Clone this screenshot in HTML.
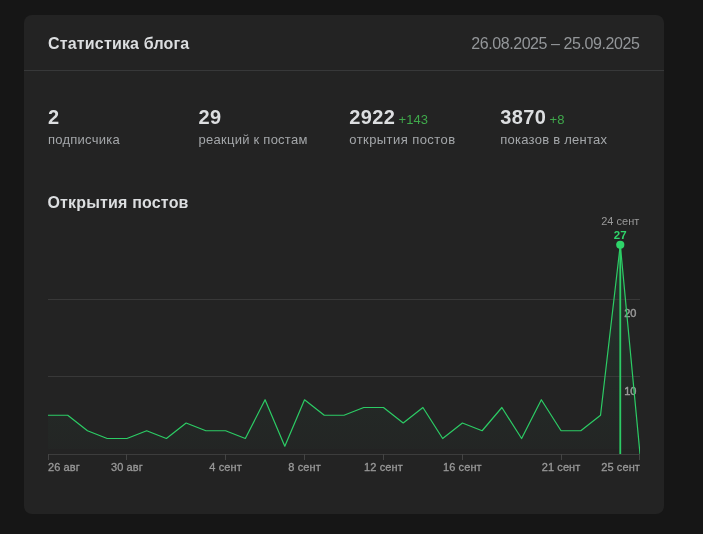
<!DOCTYPE html>
<html lang="ru"><head><meta charset="utf-8"><title>Статистика блога</title>
<style>
html,body{margin:0;padding:0;}
body{width:703px;height:534px;background:#161616;font-family:"Liberation Sans",sans-serif;position:relative;overflow:hidden;}
.card{position:absolute;left:24px;top:15px;width:640px;height:499px;background:#232323;border-radius:8px;}
.hdr{position:absolute;left:0;top:0;width:640px;height:55px;border-bottom:1px solid #373839;}
.title{position:absolute;left:24px;top:19px;font-size:16px;font-weight:bold;color:#dcdee0;line-height:20px;white-space:nowrap;letter-spacing:0.17px;}
.date{position:absolute;right:24.5px;top:19px;font-size:16px;color:#939699;line-height:20px;white-space:nowrap;letter-spacing:-0.42px;}
.stat{position:absolute;top:0;white-space:nowrap;}
.num{position:absolute;left:0;top:90px;font-size:20px;font-weight:bold;color:#dcdee0;line-height:24px;letter-spacing:0.4px;}
.delta{font-size:13px;font-weight:normal;color:#3fa84b;margin-left:3.2px;letter-spacing:0;}
.lbl{position:absolute;left:0;top:116.5px;font-size:13px;color:#a4a7aa;line-height:16px;letter-spacing:0.25px;}
.h2{position:absolute;left:23.5px;top:178px;font-size:16px;font-weight:bold;color:#dcdee0;line-height:20px;white-space:nowrap;letter-spacing:0.17px;}
svg{position:absolute;left:0;top:0;}
.tk{font-family:"Liberation Sans",sans-serif;font-size:11px;fill:#999;stroke:#999;stroke-width:0.3px;letter-spacing:0.1px;}
.yl{font-family:"Liberation Sans",sans-serif;font-size:11px;fill:#999;stroke:#999;stroke-width:0.45px;}
</style></head><body>
<div class="card">
 <div class="hdr"><div class="title">Статистика блога</div><div class="date">26.08.2025 – 25.09.2025</div></div>
 <div class="stat" style="left:24px"><div class="num">2</div><div class="lbl">подписчика</div></div>
 <div class="stat" style="left:174.6px"><div class="num">29</div><div class="lbl">реакций к постам</div></div>
 <div class="stat" style="left:325.3px"><div class="num">2922<span class="delta">+143</span></div><div class="lbl" style="letter-spacing:0.43px">открытия постов</div></div>
 <div class="stat" style="left:476.3px"><div class="num">3870<span class="delta">+8</span></div><div class="lbl">показов в лентах</div></div>
 <div class="h2">Открытия постов</div>
</div>
<svg width="703" height="534" viewBox="0 0 703 534">
<defs><linearGradient id="g" x1="0" y1="245" x2="0" y2="449" gradientUnits="userSpaceOnUse"><stop offset="0" stop-color="#36cc80" stop-opacity="0.10"/><stop offset="1" stop-color="#36cc80" stop-opacity="0.015"/></linearGradient>
<clipPath id="c2"><rect x="40" y="230" width="600" height="219"/></clipPath>
<clipPath id="c"><rect x="40" y="230" width="600" height="230"/></clipPath></defs>
<g clip-path="url(#c2)"><polygon points="48,454 48.00,415.25 67.73,415.25 87.47,430.75 107.20,438.50 126.93,438.50 146.67,430.75 166.40,438.50 186.13,423.00 205.87,430.75 225.60,430.75 245.33,438.50 265.07,399.75 284.80,446.25 304.53,399.75 324.27,415.25 344.00,415.25 363.73,407.50 383.47,407.50 403.20,423.00 422.93,407.50 442.67,438.50 462.40,423.00 482.13,430.75 501.87,407.50 521.60,438.50 541.33,399.75 561.07,430.75 580.80,430.75 600.53,415.25 620.27,244.75 640.00,454.00 640,454" fill="url(#g)"/></g>
<line x1="48" y1="299.5" x2="640" y2="299.5" stroke="#383838" stroke-width="1"/>
<line x1="48" y1="376.5" x2="640" y2="376.5" stroke="#383838" stroke-width="1"/>
<line x1="48" y1="454.5" x2="640" y2="454.5" stroke="#3c3c3c" stroke-width="1"/>
<line x1="48.5" y1="454" x2="48.5" y2="460" stroke="#444" stroke-width="1"/>
<text x="48.00" y="471" text-anchor="start" class="tk">26 авг</text>
<line x1="126.5" y1="454" x2="126.5" y2="460" stroke="#444" stroke-width="1"/>
<text x="126.93" y="471" text-anchor="middle" class="tk">30 авг</text>
<line x1="225.5" y1="454" x2="225.5" y2="460" stroke="#444" stroke-width="1"/>
<text x="225.60" y="471" text-anchor="middle" class="tk">4 сент</text>
<line x1="304.5" y1="454" x2="304.5" y2="460" stroke="#444" stroke-width="1"/>
<text x="304.53" y="471" text-anchor="middle" class="tk">8 сент</text>
<line x1="383.5" y1="454" x2="383.5" y2="460" stroke="#444" stroke-width="1"/>
<text x="383.47" y="471" text-anchor="middle" class="tk">12 сент</text>
<line x1="462.5" y1="454" x2="462.5" y2="460" stroke="#444" stroke-width="1"/>
<text x="462.40" y="471" text-anchor="middle" class="tk">16 сент</text>
<line x1="561.5" y1="454" x2="561.5" y2="460" stroke="#444" stroke-width="1"/>
<text x="561.07" y="471" text-anchor="middle" class="tk">21 сент</text>
<line x1="639.5" y1="454" x2="639.5" y2="460" stroke="#444" stroke-width="1"/>
<text x="640.00" y="471" text-anchor="end" class="tk">25 сент</text>

<text x="636.5" y="317.3" text-anchor="end" class="yl">20</text>
<text x="636.5" y="394.5" text-anchor="end" class="yl">10</text>
<g clip-path="url(#c)"><polyline points="48.00,415.25 67.73,415.25 87.47,430.75 107.20,438.50 126.93,438.50 146.67,430.75 166.40,438.50 186.13,423.00 205.87,430.75 225.60,430.75 245.33,438.50 265.07,399.75 284.80,446.25 304.53,399.75 324.27,415.25 344.00,415.25 363.73,407.50 383.47,407.50 403.20,423.00 422.93,407.50 442.67,438.50 462.40,423.00 482.13,430.75 501.87,407.50 521.60,438.50 541.33,399.75 561.07,430.75 580.80,430.75 600.53,415.25 620.27,244.75 640.00,454.00" fill="none" stroke="#2ccc65" stroke-width="1.2" stroke-linejoin="round"/></g>
<line x1="620.27" y1="245" x2="620.27" y2="454" stroke="#2ccc65" stroke-width="1.8"/>
<circle cx="620.27" cy="244.75" r="4.1" fill="#2fd46a"/>
<text x="620.27" y="225" text-anchor="middle" style="font-family:'Liberation Sans',sans-serif;font-size:11px;fill:#999">24 сент</text>
<text x="620.27" y="239" text-anchor="middle" style="font-family:'Liberation Sans',sans-serif;font-size:11.5px;font-weight:bold;fill:#2fd46a">27</text>
</svg>
</body></html>
